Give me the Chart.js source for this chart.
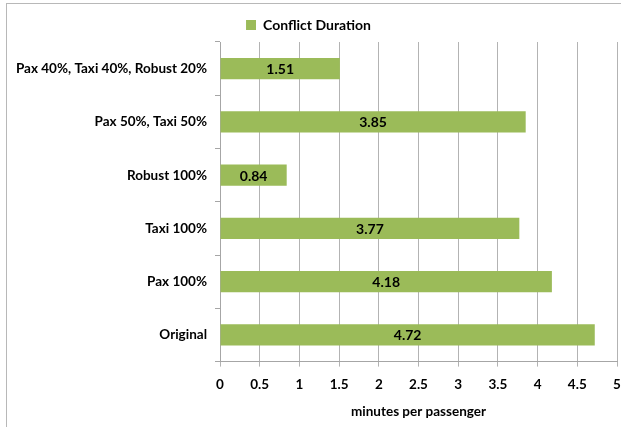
<!DOCTYPE html>
<html>
<head>
<meta charset="utf-8">
<script src="https://cdn.jsdelivr.net/npm/chart.js@4"></script>
<style>
  html, body { margin: 0; padding: 0; background: #fff; }
  #wrap { position: relative; width: 621px; height: 427px; overflow: hidden; }
  #frame { position: absolute; left: 6px; top: 3px; width: 700px; height: 500px; border: 1px solid #b8b8b8; box-sizing: border-box; }
  canvas { position: absolute; left: 0; top: 0; }
</style>
</head>
<body>
<div id="wrap">
  <div id="frame"></div>
  <canvas id="chart" width="621" height="427"></canvas>
</div>
<script>
const categories = ['Pax 40%, Taxi 40%, Robust 20%', 'Pax 50%, Taxi 50%', 'Robust 100%', 'Taxi 100%', 'Pax 100%', 'Original'];
const durations = [1.51, 3.85, 0.84, 3.77, 4.18, 4.72];
const seriesName = 'Conflict Duration';
const axisTitle = 'minutes per passenger';

const FONT = 'Lato, "Open Sans", sans-serif';

// draw the value in the middle of each bar
const barLabels = {
    id: 'barLabels',
    afterDatasetsDraw(chart) {
        const ctx = chart.ctx;
        const meta = chart.getDatasetMeta(0);
        ctx.save();
        ctx.font = 'bold 14px ' + FONT;
        ctx.fillStyle = '#000';
        ctx.textAlign = 'center';
        ctx.textBaseline = 'middle';
        meta.data.forEach(function (bar, i) {
            const x = (bar.x + bar.base) / 2;
            ctx.fillText(durations[i].toFixed(2), x, bar.y + 1);
        });
        ctx.restore();
    }
};

new Chart(document.getElementById('chart'), {
    type: 'bar',
    data: {
        labels: categories,
        datasets: [{
            label: seriesName,
            data: durations,
            backgroundColor: '#9bbb59',
            borderWidth: 0,
            barPercentage: 0.4,
            categoryPercentage: 1,
        }],
    },
    options: {
        indexAxis: 'y',
        responsive: false,
        animation: false,
        layout: { padding: { top: 10, right: 4, bottom: 7, left: 0 } },
        plugins: {
            legend: {
                position: 'top',
                labels: {
                    font: { family: FONT, size: 14, weight: 'bold' },
                    color: '#000',
                    boxWidth: 10,
                    boxHeight: 10,
                    padding: 8,
                },
            },
            tooltip: { enabled: false },
        },
        scales: {
            x: {
                min: 0,
                max: 5,
                ticks: {
                    stepSize: 0.5,
                    color: '#000',
                    font: { family: FONT, size: 13.5, weight: 'bold' },
                    padding: 10,
                    callback: function (v) { return String(v); },
                },
                grid: { color: '#b3b3b3', tickLength: 5 },
                border: { color: '#a6a6a6' },
                title: {
                    display: true,
                    text: axisTitle,
                    color: '#000',
                    font: { family: FONT, size: 13.5, weight: 'bold' },
                    padding: { top: 1, bottom: 0 },
                },
                afterFit(scale) { scale.paddingRight = 4; },
            },
            y: {
                ticks: {
                    color: '#000',
                    font: { family: FONT, size: 13.5, weight: 'bold' },
                    padding: 8,
                },
                grid: { drawOnChartArea: false, tickLength: 5, color: '#a6a6a6' },
                border: { color: '#a6a6a6' },
                afterFit(scale) { scale.width = 220; },
            },
        },
    },
    plugins: [barLabels],
});
</script>
</body>
</html>
